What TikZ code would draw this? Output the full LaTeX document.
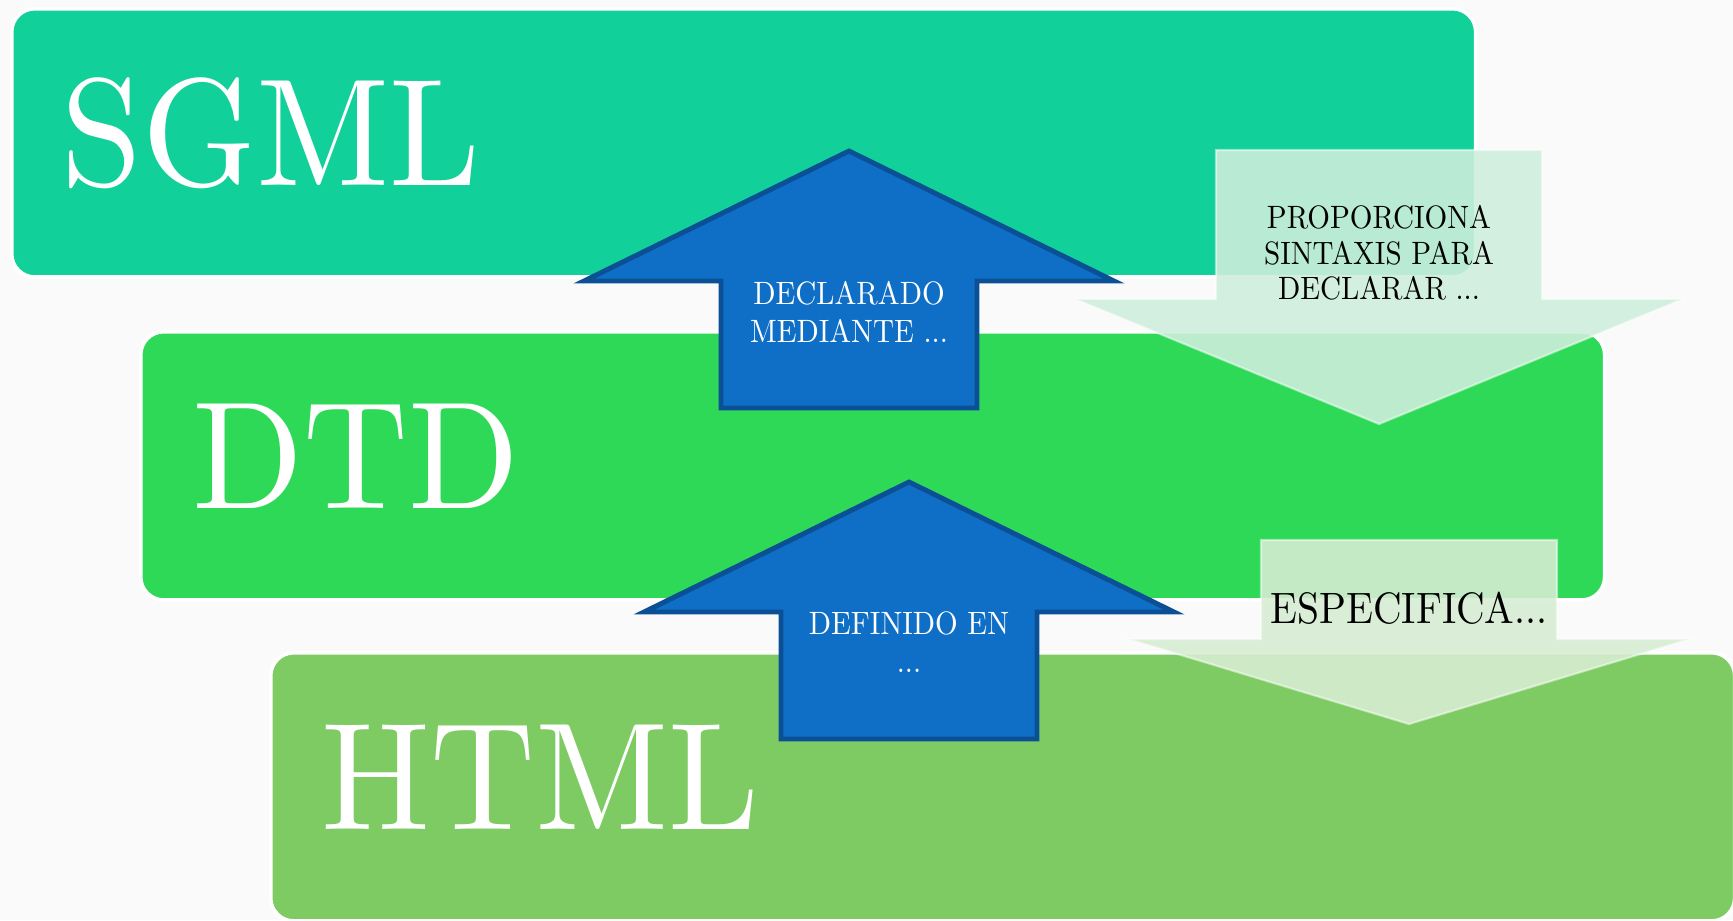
\documentclass[tikz,border=0pt]{standalone}
\usepackage{fontspec}
\setmainfont{lmroman10-regular.otf}[FakeStretch=0.9]
\newfontfamily\titlefont{lmroman10-regular.otf}[FakeStretch=0.95]
\usepackage{tikz}

\definecolor{sgmlgreen}{HTML}{12D09A}
\definecolor{dtdgreen}{HTML}{2ED958}
\definecolor{htmlgreen}{HTML}{7ECB63}
\definecolor{arrowblue}{HTML}{0F6FC6}
\definecolor{arrowedge}{HTML}{0B4F94}
\definecolor{mintlight}{HTML}{CEEEDC}
\definecolor{leaflight}{HTML}{D7EDD3}

\begin{document}
\begin{tikzpicture}[x=0.01cm, y=-0.01cm,
    layer/.style={draw=white, line width=1pt, rounded corners=0.23cm, anchor=north west,
                  minimum width=14.63cm, minimum height=2.68cm, inner sep=0pt},
    title/.style={text=white, font=\titlefont\fontsize{43.5}{50}\selectfont, anchor=base west, inner sep=0pt},
    uparrow/.style={fill=arrowblue, draw=arrowedge, line width=1.4pt},
    downarrow/.style={draw=white, draw opacity=0.5, line width=0.6pt, fill opacity=0.89},
    uplabel/.style={text=white, font=\fontsize{9.2}{10.8}\selectfont, align=center, inner sep=0pt},
    downlabel/.style={text=black, align=center, inner sep=0pt}]
       \useasboundingbox (0,0) rectangle (1733,920);
       \fill[black!2] (0,0) rectangle (1733,920);

       % Layers
       \node[layer, fill=sgmlgreen] (sgml) at (10,7) {};
       \node[layer, fill=dtdgreen] (dtd) at (139,330) {};
       \node[layer, fill=htmlgreen] (html) at (269,651) {};

       \node[title] (sgmltitle) at ([shift={(51,178)}]sgml.north west) {SGML};
       \node[title] (dtdtitle) at ([shift={(53,178)}]dtd.north west) {DTD};
       \node[title] (htmltitle) at ([shift={(52,178)}]html.north west) {HTML};

       % Up arrows
       \draw[uparrow] (849,151) -- ++(265,130) -- ++(-137,0) -- ++(0,127)
           -- ++(-256,0) -- ++(0,-127) -- ++(-137,0) -- cycle;
       \draw[uparrow] (909,482) -- ++(265,130) -- ++(-137,0) -- ++(0,127)
           -- ++(-256,0) -- ++(0,-127) -- ++(-137,0) -- cycle;

       % Down arrows
       \draw[downarrow, fill=mintlight] (1216,150) -- ++(326,0) -- ++(0,149) -- ++(141,0)
           -- (1379,424) -- (1075,299) -- ++(141,0) -- cycle;
       \draw[downarrow, fill=leaflight] (1261,540) -- ++(296,0) -- ++(0,99) -- ++(133,0)
           -- (1409,724) -- (1128,639) -- ++(133,0) -- cycle;

       % Labels
       \node[uplabel] (declarado) at (849,312) {DECLARADO\\MEDIANTE ...};
       \node[uplabel] (definido) at (909,642) {DEFINIDO EN\\...};
       \node[downlabel, font=\fontsize{9.2}{10.1}\selectfont] (proporciona) at (1379,253)
           {PROPORCIONA\\SINTAXIS PARA\\DECLARAR ...};
       \node[downlabel, font=\fontsize{12.5}{14}\selectfont] (especifica) at (1409,608) {ESPECIFICA...};
\end{tikzpicture}
\end{document}
